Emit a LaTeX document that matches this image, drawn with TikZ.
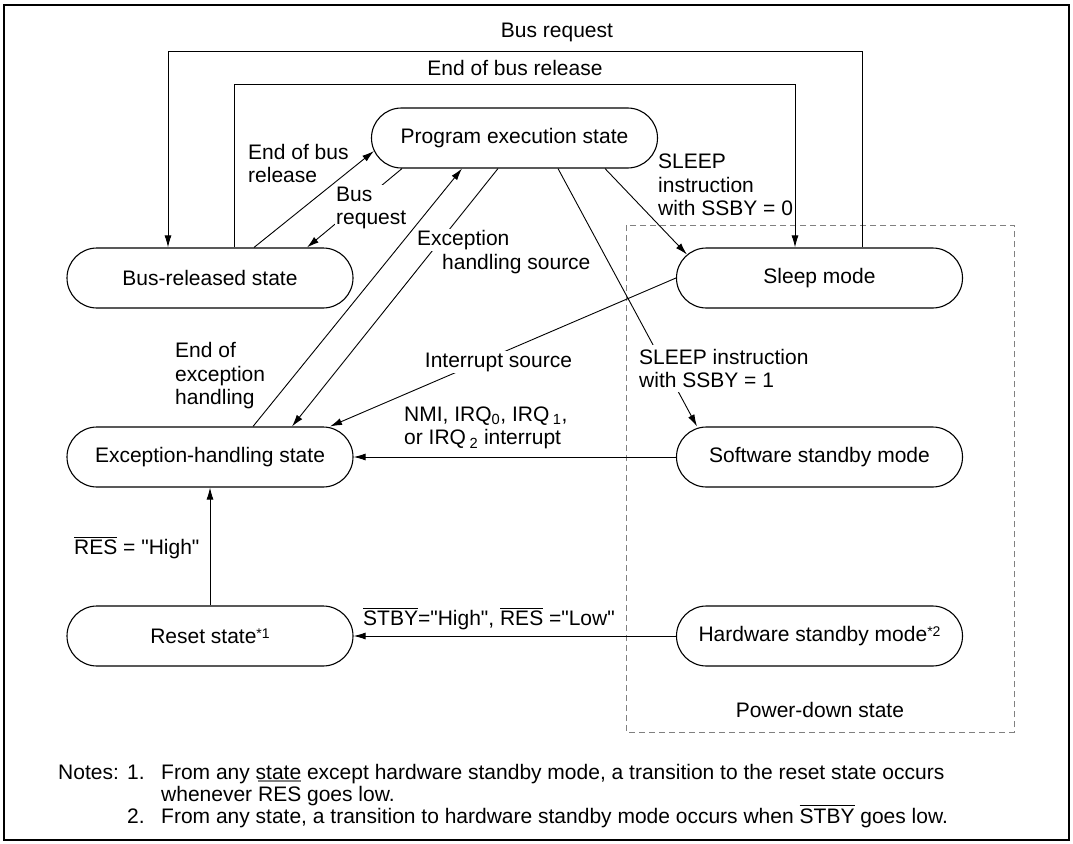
\documentclass[tikz,border=0pt]{standalone}
\usepackage{fontspec}
\setmainfont{Liberation Sans}[Ligatures=TeXOff]
\usetikzlibrary{arrows.meta,calc,shapes.misc}
\newcommand\ovl[1]{\setbox0\hbox{#1}\rlap{\rule[\dimexpr\ht0+2pt\relax]{\wd0}{1pt}}\box0\relax}
\newcommand\hiovl[1]{\setbox0\hbox{#1}\rlap{\textcolor{gray}{\rule[19.5pt]{\wd0}{1.6pt}}}\box0\relax}
\newcommand\stxt[1]{\raisebox{5pt}{\fontsize{14}{14}\selectfont #1}}
\begin{document}
\begin{tikzpicture}[x=1pt,y=-1pt,
  every node/.style={font=\fontsize{21}{23.5}\selectfont,inner sep=0pt},
  state/.style={draw,rounded rectangle,minimum width=286pt,minimum height=60pt,inner sep=0pt,line width=1.1pt},
  conn/.style={line width=0.9pt},
  arr/.style={conn,-{Latex[length=12pt,width=7pt]}},
  lbl/.style={inner sep=0pt,align=left},
  wlbl/.style={inner sep=1.5pt,align=left,fill=white},
]
\useasboundingbox (0,0) rectangle (1073,843);
\draw[line width=2.7pt] (4,5) rectangle (1069,840);

% states
\node[state] (pes) at (514.5,138) {Program execution state};
\node[state] (brs) at (210,278) {Bus-released state};
\node[state] (slp) at (819.5,278) {Sleep mode};
\node[state] (ehs) at (210,457) {Exception-handling state};
\node[state] (sws) at (819.5,457) {Software standby mode};
\node[state] (rst) at (210,636) {Reset state\stxt{*1}};
\node[state] (hws) at (819.5,636) {Hardware standby mode\stxt{*2}};

% power-down region
\draw[gray,line width=1pt,dash pattern=on 6pt off 4pt] (626,225) rectangle (1014,732);
\node (pdl) at (820,710) {Power-down state};

% top bus lines
\draw[arr] ($(slp.north)+(42.5,0)$) -- ++(0,-196) -| ($(brs.north)+(-42,0)$);
\node (lbr1) at (557,32) {Bus request};
\draw[arr] ($(brs.north)+(24,0)$) -- ++(0,-163) -| ($(slp.north)+(-24.5,0)$);
\node (lebr1) at (515,68) {End of bus release};

% bus-released <-> program execution
\draw[arr] ($(brs.north)+(44,0)$) -- ($(pes.west)+(3,13)$);
\node[lbl,anchor=west] (lebr2) at (248,163.5) {End of bus\\release};
\draw[arr] ($(pes.south)+(-112.5,0)$) -- ($(brs.north)+(97,0)$);
\node[wlbl,anchor=west] (lbr2) at (334.5,208) {Bus\\request};

% exception handling <-> program execution
\draw[arr] ($(ehs.north)+(43,0)$) -- ($(pes.south)+(-52.5,0)$);
\node[lbl,anchor=west] (leeh) at (175,376) {End of\\exception\\handling};
\draw[arr] ($(pes.south)+(-16.5,0)$) -- ($(ehs.north)+(82,0)$);
\node[wlbl,anchor=west] (lehs1) at (415.5,240) {Exception};
\node[wlbl,anchor=west] (lehs2) at (440.5,264) {handling source};

% sleep transitions
\draw[arr] ($(pes.south)+(90.5,0)$) -- ($(slp.west)+(11,-23.5)$);
\node[lbl,anchor=west] (ls0) at (658,185) {SLEEP\\instruction\\with SSBY = 0};
\draw[arr] ($(pes.south)+(43.5,0)$) -- ($(sws.north)+(-122.5,0)$);
\node[wlbl,anchor=west,inner sep=4pt] (ls1) at (635,368.5) {SLEEP instruction\\with SSBY = 1};

% interrupt source
\draw[arr] (slp.west) -- ($(ehs.north)+(120,0)$);
\node[wlbl] (lint) at (498.5,362) {Interrupt source};

% NMI
\draw[arr] (sws.west) -- (ehs.east);
\node[lbl,anchor=west] (lnmi) at (404,428) {NMI, IRQ\textsubscript{0}, IRQ\,\textsubscript{1},\\or IRQ\,\textsubscript{2} interrupt};

% reset
\draw[arr] (rst.north) -- (ehs.south);
\node[lbl,anchor=west] (lres) at (74,548) {\ovl{RES} = "High"};
\draw[arr] (hws.west) -- (rst.east);
\node[lbl,anchor=south west] (lstby) at (363,630) {\ovl{STBY}="High", \ovl{RES} ="Low"};

% notes
\node[anchor=base west] (n0) at (58,779) {Notes:};
\node[anchor=base west] (n1) at (127,779) {1.};
\node[anchor=base west] (n1a) at (161,779) {From any state except hardware standby mode, a transition to the reset state occurs};
\node[anchor=base west] (n1b) at (161,801) {whenever \hiovl{RES} goes low.};
\node[anchor=base west] (n2) at (127,823) {2.};
\node[anchor=base west] (n2a) at (161,823) {From any state, a transition to hardware standby mode occurs when \ovl{STBY} goes low.};
\end{tikzpicture}
\end{document}
